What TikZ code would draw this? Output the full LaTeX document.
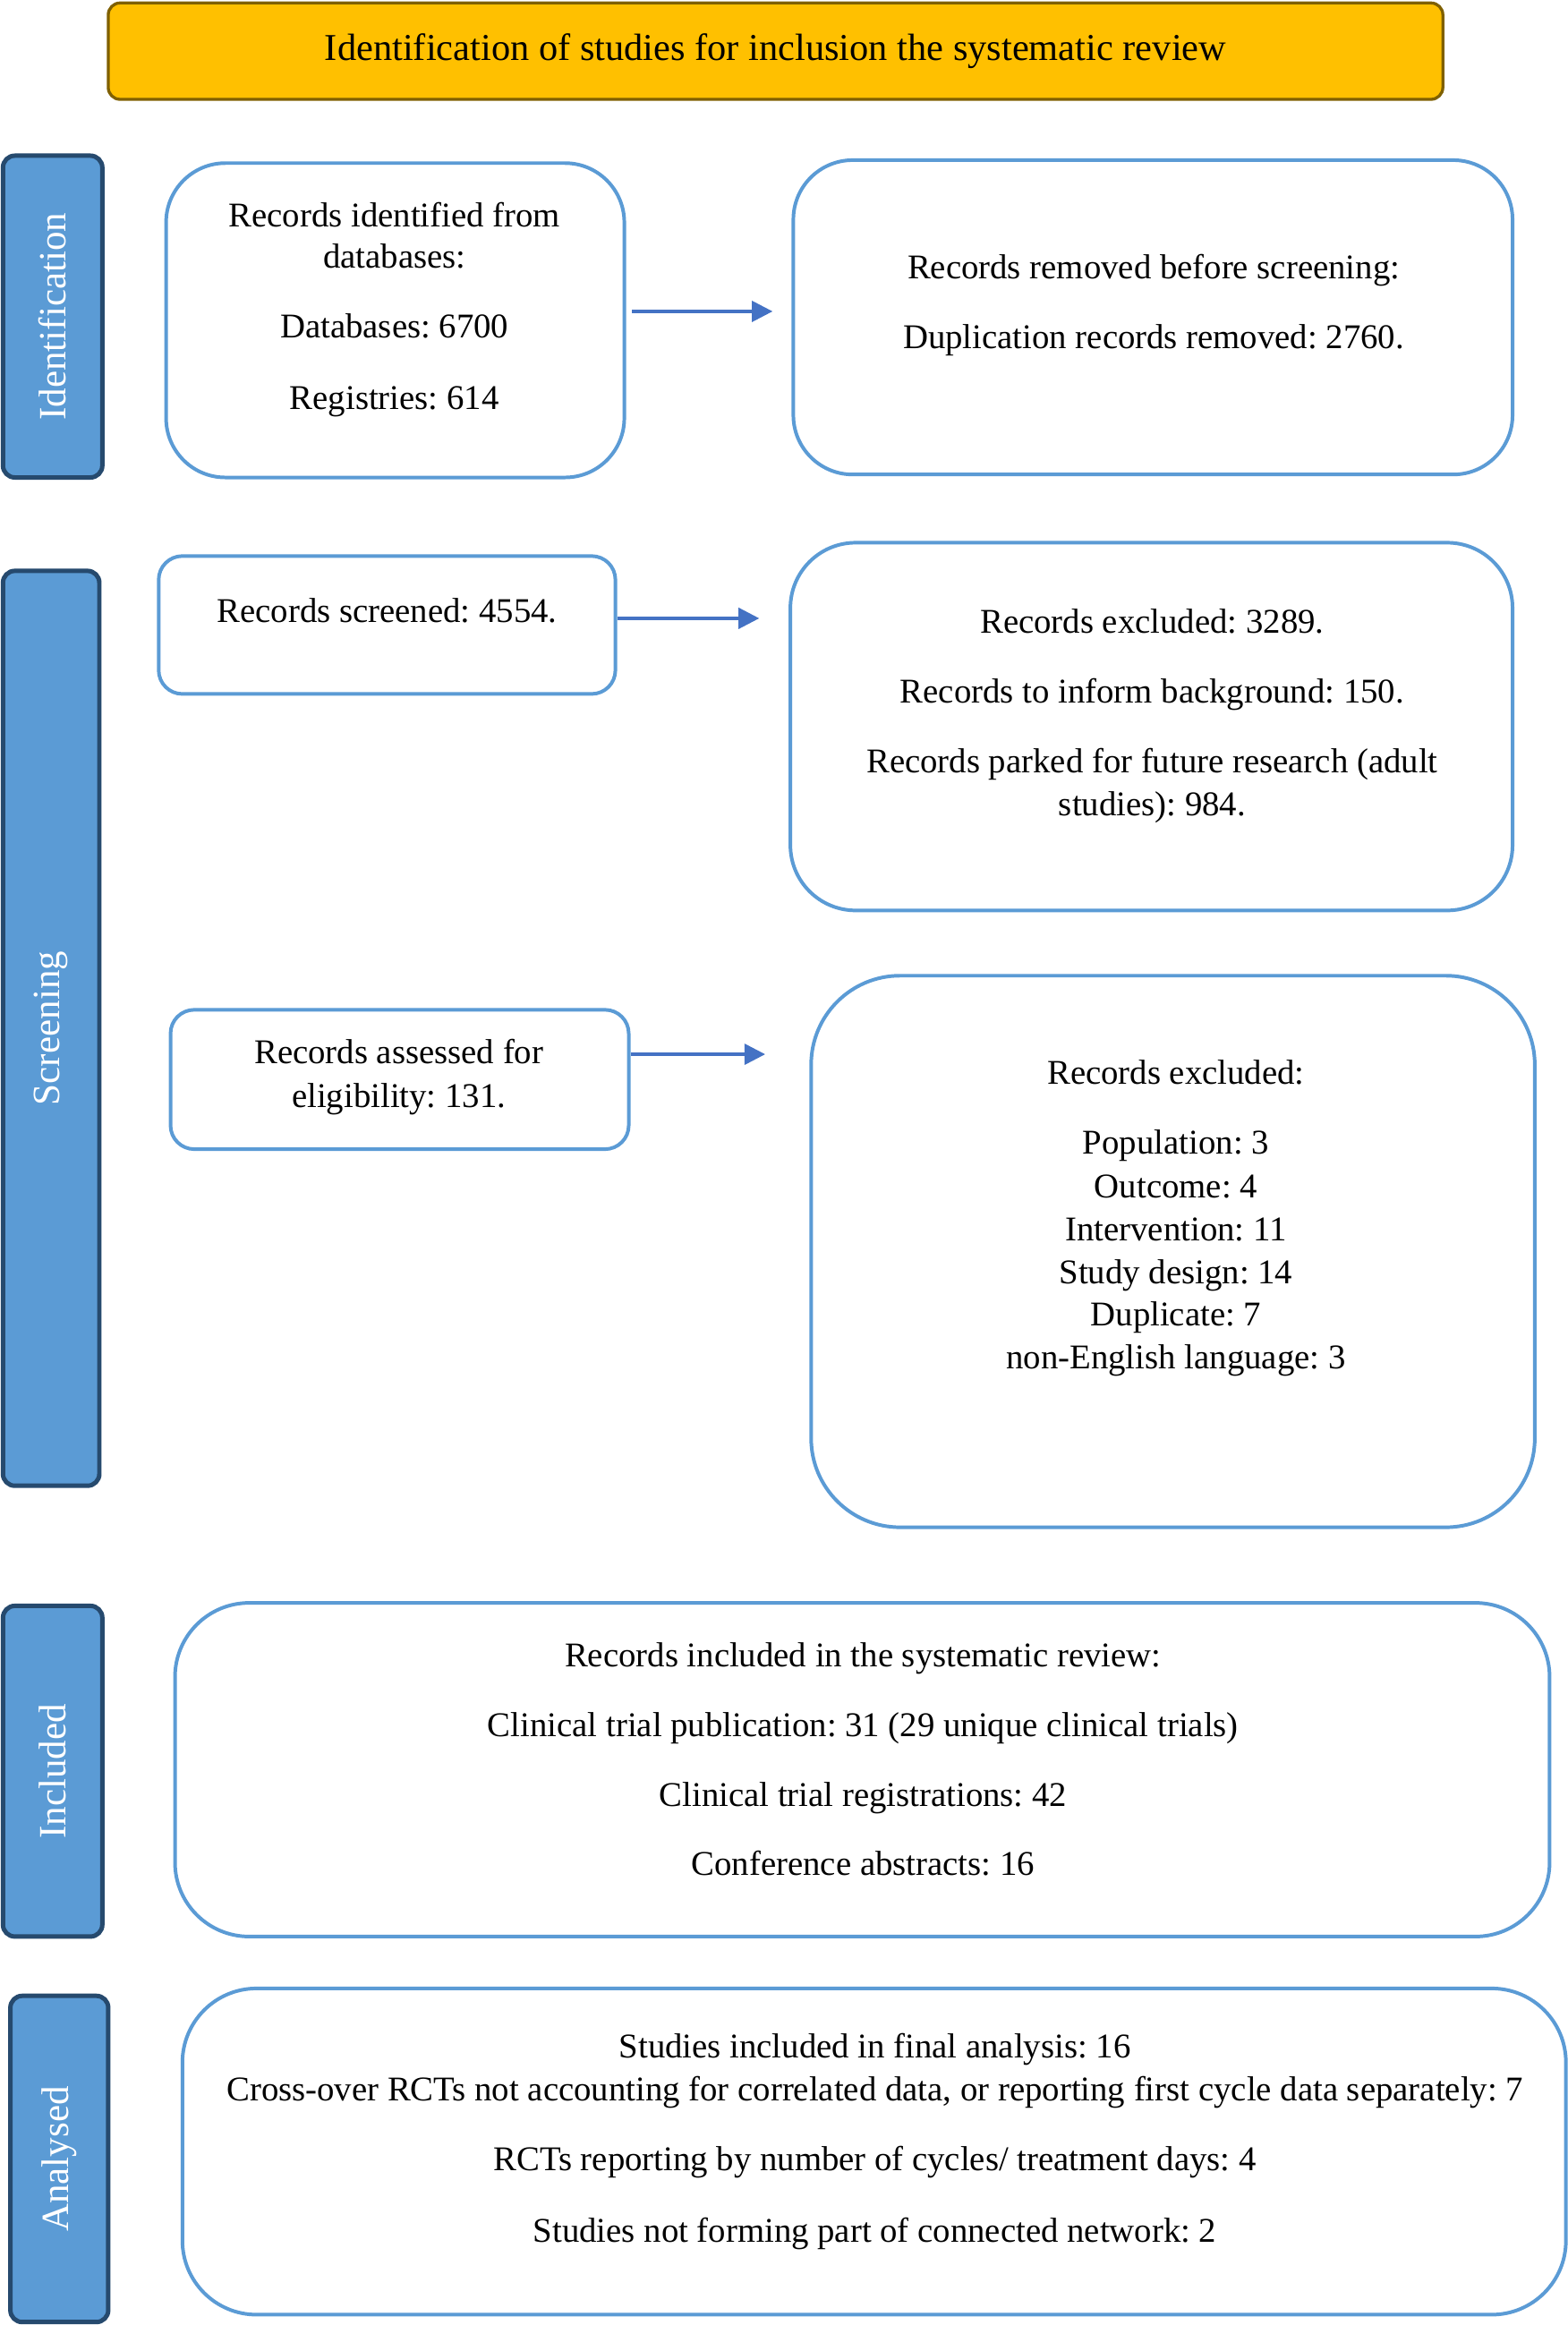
\documentclass[tikz,border=0pt]{standalone}
\usepackage{fontspec}
\setmainfont{Liberation Serif}
\usetikzlibrary{fit,arrows.meta}
\definecolor{boxblue}{HTML}{5B9BD5}
\definecolor{sideedge}{HTML}{264A6E}
\definecolor{arrowblue}{HTML}{4472C4}
\definecolor{titlefill}{HTML}{FFC000}
\definecolor{titleedge}{HTML}{7F6000}
\tikzset{
  box/.style={draw=boxblue, line width=1.2pt, fill=white, inner sep=0pt},
  side/.style={draw=sideedge, line width=1.5pt, fill=boxblue, rounded corners=4pt, inner sep=0pt},
  sidetxt/.style={text=white, font=\fontsize{13}{15}\selectfont, rotate=90, inner sep=0pt},
  txt/.style={font=\fontsize{11.7}{13}\selectfont, inner sep=0pt, anchor=base},
  arr/.style={draw=arrowblue, line width=1pt, -{Triangle[length=7pt,width=7pt]}}
}
\begin{document}
\frenchspacing
\begin{tikzpicture}[x=0.5pt,y=-0.5pt]
\useasboundingbox (0,0) rectangle (1057,1568);
% title
\node[draw=titleedge, line width=1pt, fill=titlefill, rounded corners=4pt, inner sep=0pt, fit={(73,2) (973,67)}] (title) {};
\node[font=\fontsize{12.8}{15}\selectfont, inner sep=0pt] (titletxt) at (title.center) {Identification of studies for inclusion the systematic review};
% sidebars
\node[side, fit={(2,105) (69,322)}] (s1) {};
\node[sidetxt] (s1t) at (s1.center) {Identification};
\node[side, fit={(2,385) (67,1002)}] (s2) {};
\node[sidetxt] (s2t) at (s2.center) {Screening};
\node[side, fit={(2,1083) (69,1306)}] (s3) {};
\node[sidetxt] (s3t) at (s3.center) {Included};
\node[side, fit={(7,1346) (73,1566)}] (s4) {};
\node[sidetxt] (s4t) at (s4.center) {Analysed};
% boxes
\node[box, rounded corners=20pt, fit={(112,110) (421,322)}] (b1) {};
\node[txt] (b1a) at (266,153) {Records identified from};
\node[txt] (b1b) at (266,181) {databases:};
\node[txt] (b1c) at (266,228) {Databases: 6700};
\node[txt] (b1d) at (266,276) {Registries: 614};
\node[box, rounded corners=20pt, fit={(535,108) (1020,320)}] (b2) {};
\node[txt] (b2a) at (778,188) {Records removed before screening:};
\node[txt] (b2b) at (778,235) {Duplication records removed: 2760.};
\node[box, rounded corners=8pt, fit={(107,375) (415,468)}] (b3) {};
\node[txt] (b3a) at (261,420) {Records screened: 4554.};
\node[box, rounded corners=22pt, fit={(533,366) (1020,614)}] (b4) {};
\node[txt] (b4a) at (777,427) {Records excluded: 3289.};
\node[txt] (b4b) at (777,474) {Records to inform background: 150.};
\node[txt] (b4c) at (777,521) {Records parked for future research (adult};
\node[txt] (b4d) at (777,550) {studies): 984.};
\node[box, rounded corners=8pt, fit={(115,681) (424,775)}] (b5) {};
\node[txt] (b5a) at (269,717) {Records assessed for};
\node[txt] (b5b) at (269,747) {eligibility: 131.};
\node[box, rounded corners=30pt, fit={(547,658) (1035,1030)}] (b6) {};
\node[txt] (b6a) at (793,731) {Records excluded:};
\node[txt] (b6b) at (793,778) {Population: 3};
\node[txt] (b6c) at (793,808) {Outcome: 4};
\node[txt] (b6d) at (793,837) {Intervention: 11};
\node[txt] (b6e) at (793,866) {Study design: 14};
\node[txt] (b6f) at (793,894) {Duplicate: 7};
\node[txt] (b6g) at (793,923) {non-English language: 3};
\node[box, rounded corners=25pt, fit={(118,1081) (1045,1306)}] (b7) {};
\node[txt] (b7a) at (582,1124) {Records included in the systematic review:};
\node[txt] (b7b) at (582,1171) {Clinical trial publication: 31 (29 unique clinical trials)};
\node[txt] (b7c) at (582,1218) {Clinical trial registrations: 42};
\node[txt] (b7d) at (582,1265) {Conference abstracts: 16};
\node[box, rounded corners=25pt, fit={(123,1341) (1056,1561)}] (b8) {};
\node[txt] (b8a) at (590,1388) {Studies included in final analysis: 16};
\node[txt] (b8b) at (590,1417) {Cross-over RCTs not accounting for correlated data, or reporting first cycle data separately: 7};
\node[txt] (b8c) at (590,1464) {RCTs reporting by number of cycles/ treatment days: 4};
\node[txt] (b8d) at (590,1512) {Studies not forming part of connected network: 2};
% arrows
\coordinate (e1) at (521,210);
\coordinate (e2) at (512,417);
\coordinate (e3) at (516,711);
\draw[arr] (b1.east |- e1) ++(4,0) -- (e1);
\draw[arr] (b3.east |- e2) -- (e2);
\draw[arr] (b5.east |- e3) -- (e3);
\end{tikzpicture}
\end{document}
